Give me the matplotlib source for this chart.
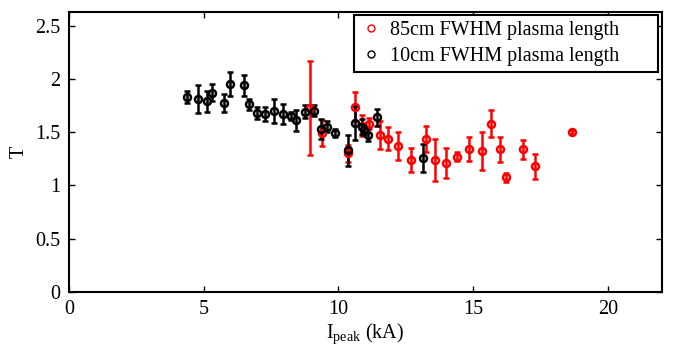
import matplotlib
matplotlib.use("Agg")
import matplotlib.pyplot as plt
from matplotlib.lines import Line2D

# 85cm FWHM plasma length (red)
x_85 = [8.95, 9.38, 10.35, 10.62, 10.87, 11.14, 11.56, 11.83, 12.20, 12.68,
        13.25, 13.60, 14.01, 14.39, 14.85, 15.32, 15.68, 16.00, 16.21, 16.84,
        17.30, 18.66]
t_85 = [1.73, 1.49, 1.30, 1.74, 1.56, 1.58, 1.475, 1.44, 1.37, 1.24,
        1.435, 1.24, 1.21, 1.27, 1.34, 1.32, 1.58, 1.34, 1.075, 1.34,
        1.18, 1.50]
err_85 = [0.44, 0.12, 0.08, 0.14, 0.10, 0.055, 0.13, 0.11, 0.13, 0.115,
          0.125, 0.20, 0.14, 0.045, 0.115, 0.18, 0.125, 0.117, 0.045, 0.09,
          0.117, 0.02]

# 10cm FWHM plasma length (black)
x_10 = [4.37, 4.80, 5.11, 5.32, 5.75, 5.99, 6.48, 6.67, 6.99, 7.28,
        7.61, 7.95, 8.23, 8.43, 8.77, 9.09, 9.37, 9.59, 9.87, 10.36,
        10.62, 10.86, 10.95, 11.11, 11.44, 13.14]
t_10 = [1.83, 1.81, 1.79, 1.87, 1.77, 1.95, 1.94, 1.76, 1.68, 1.67,
        1.70, 1.67, 1.65, 1.61, 1.69, 1.70, 1.53, 1.55, 1.49, 1.33,
        1.585, 1.55, 1.52, 1.475, 1.64, 1.255]
err_10 = [0.06, 0.13, 0.10, 0.08, 0.085, 0.11, 0.10, 0.055, 0.055, 0.065,
          0.115, 0.09, 0.04, 0.10, 0.06, 0.05, 0.09, 0.05, 0.04, 0.145,
          0.16, 0.07, 0.05, 0.06, 0.08, 0.13]

x_ticks = [0, 5, 10, 15, 20]
y_ticks = [0, 0.5, 1, 1.5, 2, 2.5]
y_tick_labels = ['0', '0.5', '1', '1.5', '2', '2.5']

plt.rcParams['font.family'] = 'Liberation Serif'
plt.rcParams['mathtext.fontset'] = 'custom'
plt.rcParams['mathtext.rm'] = 'Liberation Serif'

fig = plt.figure(figsize=(6.75, 3.5), dpi=100)
ax = fig.add_axes([0.1022, 0.1657, 0.878, 0.8009])

style = dict(fmt='o', markersize=5, markerfacecolor='none', markeredgewidth=1.8,
             elinewidth=1.8, capsize=2.5, capthick=1.8)
ax.errorbar(x_85, t_85, yerr=err_85, color='red', **style)
ax.errorbar(x_10, t_10, yerr=err_10, color='black', **style)

ax.set_xlim(0, 22)
ax.set_ylim(0, 2.63)
ax.set_xticks(x_ticks)
ax.set_yticks(y_ticks)
ax.set_yticklabels(y_tick_labels)
ax.tick_params(direction='in', top=True, right=True, length=4, width=1,
               labelsize=14.5, pad=6)
for s in ax.spines.values():
    s.set_linewidth(1.5)

ax.set_xlabel(r'I$_{\mathrm{peak}}$ (kA)', fontsize=14.5, labelpad=1)
ax.set_ylabel('T', fontsize=14.5, labelpad=5)

# legend with small open circle markers, box stretched like the original
handles = [
    Line2D([0], [0], marker='o', color='red', linestyle='none',
           markerfacecolor='none', markersize=5, markeredgewidth=1),
    Line2D([0], [0], marker='o', color='black', linestyle='none',
           markerfacecolor='none', markersize=5, markeredgewidth=1),
]
leg = ax.legend(handles, ['85cm FWHM plasma length', '10cm FWHM plasma length'],
                loc='upper left', bbox_to_anchor=(0.481, 0.788, 0.513, 0.2),
                mode='expand', borderaxespad=0,
                fancybox=False, framealpha=1, edgecolor='black', fontsize=14.5,
                handlelength=1.1, handletextpad=0.4, borderpad=0.3,
                labelspacing=0.35)
leg.get_frame().set_linewidth(1.5)

fig.savefig('out.png', dpi=100)
